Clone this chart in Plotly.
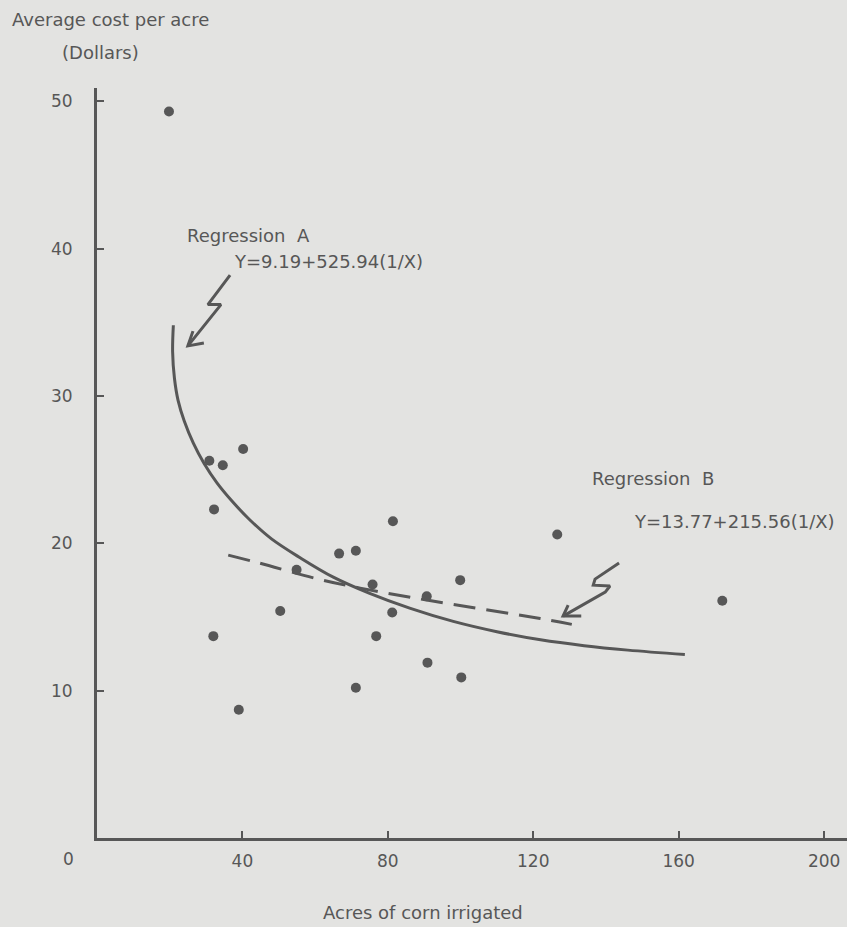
import plotly.graph_objects as go

# ---- data ----
pts_x = [19.8, 40.2, 30.9, 34.6, 32.2, 81.4, 66.6, 71.2, 54.9, 75.8, 99.9,
         90.7, 50.4, 81.2, 32.0, 76.8, 90.9, 100.2, 71.2, 39.0, 126.6, 172.0]
pts_y = [49.3, 26.4, 25.6, 25.3, 22.3, 21.5, 19.3, 19.5, 18.2, 17.2, 17.5,
         16.4, 15.4, 15.3, 13.7, 13.7, 11.9, 10.9, 10.2, 8.7, 20.6, 16.1]

# Regression A (solid curve)
regA_x = [21.0, 20.8, 21.3, 22.3, 24.0, 26.5, 29.5, 33.0, 37.0, 42.0, 48.0,
          56.0, 65.0, 75.0, 86.0, 98.0, 110.0, 122.0, 134.0, 146.0, 161.7]
regA_y = [34.8, 33.0, 31.2, 29.7, 28.3, 26.8, 25.4, 24.1, 22.9, 21.6, 20.3,
          19.0, 17.7, 16.6, 15.6, 14.7, 14.0, 13.45, 13.05, 12.75, 12.45]

# Regression B (dashed)
regB_x = [36.1, 44.8, 60.4, 72.4, 90.7, 121.9, 130.6]
regB_y = [19.2, 18.65, 17.6, 16.96, 16.15, 14.9, 14.5]

x_ticks = [40, 80, 120, 160, 200]
y_ticks = [10, 20, 30, 40, 50]

# zig-zag arrow outlines (data coordinates)
arrowA_x = [36.6, 31.9, 30.5, 34.1, 32.1, 25.0]
arrowA_y = [38.2, 36.6, 36.2, 36.2, 35.6, 33.4]
arrowA_wings_x = [29.4, 25.0, 26.4]
arrowA_wings_y = [33.6, 33.4, 34.4]

arrowB_x = [143.6, 137.0, 136.5, 141.1, 139.8, 128.2]
arrowB_y = [18.66, 17.57, 17.16, 17.10, 16.69, 15.06]
arrowB_wings_x = [133.2, 128.2, 129.6]
arrowB_wings_y = [15.06, 15.06, 15.81]

INK = "#575757"
BG = "#e3e3e1"
FONT = "DejaVu Sans, Open Sans, sans-serif"

fig = go.Figure()

fig.add_trace(go.Scatter(x=regA_x, y=regA_y, mode="lines",
                         line=dict(color=INK, width=3, shape="spline", smoothing=1.0),
                         hoverinfo="skip", showlegend=False))
fig.add_trace(go.Scatter(x=regB_x, y=regB_y, mode="lines",
                         line=dict(color=INK, width=3, dash="22px,11px", shape="spline"),
                         hoverinfo="skip", showlegend=False))
fig.add_trace(go.Scatter(x=pts_x, y=pts_y, mode="markers",
                         marker=dict(color=INK, size=10, line=dict(width=0)),
                         showlegend=False))

for ax_, ay_ in [(arrowA_x, arrowA_y), (arrowA_wings_x, arrowA_wings_y),
                 (arrowB_x, arrowB_y), (arrowB_wings_x, arrowB_wings_y)]:
    fig.add_trace(go.Scatter(x=ax_, y=ay_, mode="lines",
                             line=dict(color=INK, width=3),
                             hoverinfo="skip", showlegend=False))

tf = dict(family=FONT, size=18, color=INK)
tk = dict(family=FONT, size=17, color=INK)

fig.add_annotation(text="Average cost per acre", xref="paper", yref="paper",
                   x=-0.116, y=1.0907, xanchor="left", yanchor="middle",
                   showarrow=False, font=tf)
fig.add_annotation(text="(Dollars)", xref="paper", yref="paper",
                   x=0.005, y=1.0467, xanchor="center", yanchor="middle",
                   showarrow=False, font=tf)
fig.add_annotation(text="Acres of corn irrigated", xref="paper", yref="paper",
                   x=0.4347, y=-0.0987, xanchor="center", yanchor="middle",
                   showarrow=False, font=tf)
fig.add_annotation(text="0", xref="x", yref="y", x=0, y=0,
                   xanchor="right", yanchor="top", xshift=-21, yshift=-9,
                   showarrow=False, font=tk)
fig.add_annotation(text="Regression  A", x=41.7, y=40.9, xanchor="center",
                   yanchor="middle", showarrow=False, font=tf)
fig.add_annotation(text="Y=9.19+525.94(1/X)", x=63.8, y=39.1, xanchor="center",
                   yanchor="middle", showarrow=False, font=tf)
fig.add_annotation(text="Regression  B", x=152.8, y=24.4, xanchor="center",
                   yanchor="middle", showarrow=False, font=tf)
fig.add_annotation(text="Y=13.77+215.56(1/X)", x=203.6, y=21.5, xanchor="right",
                   yanchor="middle", showarrow=False, font=tf)

fig.update_xaxes(range=[0, 206.3], tickvals=x_ticks, ticks="inside", ticklen=7,
                 tickwidth=2, tickcolor=INK, showline=True, linewidth=3,
                 linecolor=INK, showgrid=False, zeroline=False,
                 tickfont=tk, ticklabelstandoff=6)
fig.update_yaxes(range=[0, 50.9], tickvals=y_ticks, ticks="inside", ticklen=7,
                 tickwidth=2, tickcolor=INK, showline=True, linewidth=3,
                 linecolor=INK, showgrid=False, zeroline=False,
                 tickfont=tk, ticklabelstandoff=18)

fig.update_layout(width=847, height=927, autosize=False,
                  margin=dict(l=97, r=0, t=88, b=89),
                  paper_bgcolor=BG, plot_bgcolor=BG,
                  font=tf, showlegend=False)

fig.write_html("out.html",
               config={"displayModeBar": False},
               post_script="document.body.style.margin='0';"
                           "document.body.style.padding='0';"
                           "document.body.style.overflow='hidden';")
